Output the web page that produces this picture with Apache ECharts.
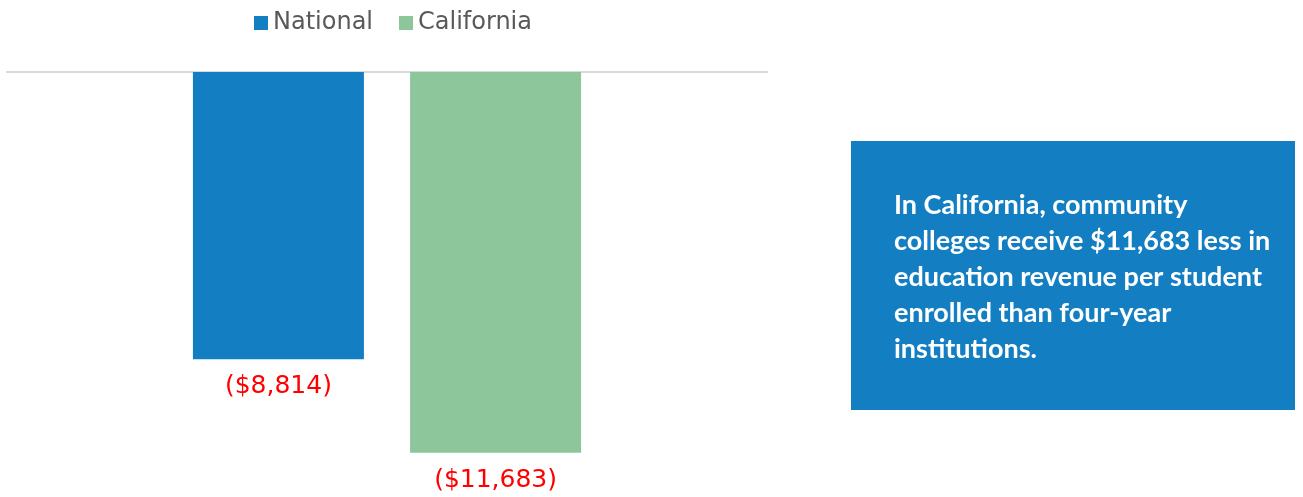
<!DOCTYPE html>
<html>
<head>
<meta charset="utf-8">
<script src="https://cdn.jsdelivr.net/npm/echarts@6/dist/echarts.min.js"></script>
<style>
  html, body { margin: 0; padding: 0; background: #fff; }
  #chart { width: 1303px; height: 497px; }
</style>
</head>
<body>
<div id="chart"></div>
<script>
const categories = ['Difference'];
const seriesNames = ['National', 'California'];
const nationalValues = [-8814];
const californiaValues = [-11683];
const noteLines = [
  'In California, community',
  'colleges receive $11,683 less in',
  'education revenue per student',
  'enrolled than four-year',
  'institutions.'
];

const chart = echarts.init(document.getElementById('chart'));

const fmt = (v) => '($' + Math.abs(v).toLocaleString('en-US') + ')';

const labelStyle = {
  show: true,
  position: 'bottom',
  distance: 15,
  color: '#ff0000',
  fontSize: 25,
  fontFamily: 'DejaVu Sans',
  formatter: (p) => fmt(p.value)
};

const option = {
  animation: false,
  legend: {
    data: seriesNames,
    top: 6,
    left: 249,
    itemWidth: 14,
    itemHeight: 14,
    itemGap: 26,
    icon: 'rect',
    textStyle: { color: '#595959', fontSize: 24, fontFamily: 'DejaVu Sans' }
  },
  grid: { left: 7, top: 72, width: 760, height: 391 },
  xAxis: {
    type: 'category',
    data: categories,
    position: 'top',
    axisLine: { lineStyle: { color: '#d9d9d9', width: 2 } },
    axisTick: { show: false },
    axisLabel: { show: false }
  },
  yAxis: {
    type: 'value',
    min: -12000,
    max: 0,
    show: false,
    splitLine: { show: false }
  },
  series: [
    {
      name: seriesNames[0],
      type: 'bar',
      data: nationalValues,
      barWidth: 171,
      barGap: '27%',
      itemStyle: { color: '#137fc2' },
      label: labelStyle
    },
    {
      name: seriesNames[1],
      type: 'bar',
      data: californiaValues,
      barWidth: 171,
      itemStyle: { color: '#8dc69a' },
      label: labelStyle
    }
  ],
  graphic: [
    {
      type: 'group',
      left: 851,
      top: 141,
      children: [
        {
          type: 'rect',
          shape: { x: 0, y: 0, width: 444, height: 269 },
          style: { fill: '#137fc2' }
        },
        {
          type: 'text',
          left: 43,
          top: 46,
          style: {
            text: noteLines.join('\n'),
            fill: '#ffffff',
            font: 'bold 27px Lato',
            lineHeight: 36
          }
        }
      ]
    }
  ]
};

chart.setOption(option);
window.addEventListener('resize', () => chart.resize());
</script>
</body>
</html>
